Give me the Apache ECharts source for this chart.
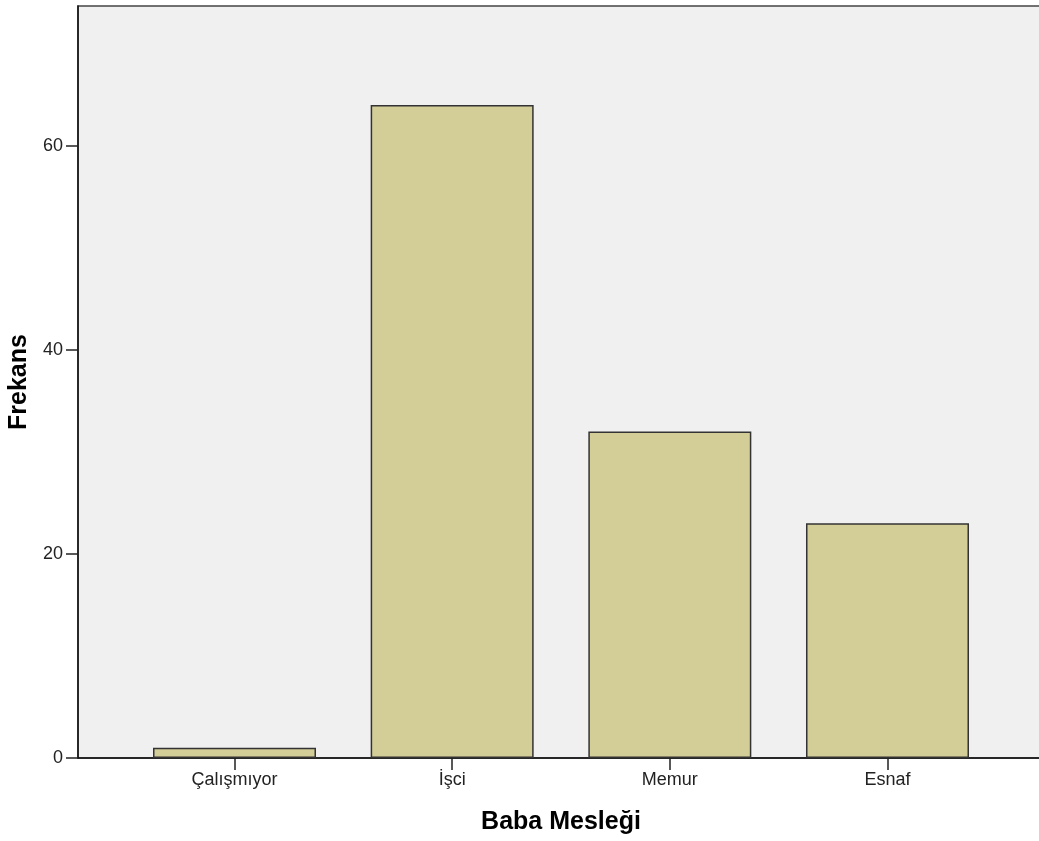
<!DOCTYPE html>
<html>
<head>
<meta charset="utf-8">
<script src="https://cdn.jsdelivr.net/npm/echarts@6/dist/echarts.min.js"></script>
<style>
html,body{margin:0;padding:0;background:#fff;}
#chart{width:1039px;height:841px;}
</style>
</head>
<body>
<div id="chart"></div>
<script>
var categories = ['Çalışmıyor', 'İşci', 'Memur', 'Esnaf'];
var frequencies = [1, 64, 32, 23];
var yTicks = [0, 20, 40, 60];
var xTitle = 'Baba Mesleği';
var yTitle = 'Frekans';

var chart = echarts.init(document.getElementById('chart'));
var catIdx = categories.map(function (c, i) { return i; });
var barData = frequencies.map(function (v, i) { return [i, v]; });
var FONT = 'Liberation Sans, Arial, sans-serif';

chart.setOption({
  animation: false,
  grid: {
    left: 78, top: 6, right: -5, bottom: 83,
    outerBoundsMode: 'none', containLabel: false,
    show: true, backgroundColor: '#f0f0f0',
    borderColor: '#444', borderWidth: 1.5
  },
  xAxis: {
    type: 'value', min: -0.719, max: 3.719,
    splitLine: { show: false },
    axisLine: { show: true, onZero: false, lineStyle: { color: '#111', width: 1.5 } },
    axisTick: { show: true, customValues: catIdx, length: 12, lineStyle: { color: '#222', width: 1.5 } },
    axisLabel: {
      customValues: catIdx, color: '#222', fontSize: 18,
      fontFamily: FONT, margin: 13,
      formatter: function (v) { return categories[Math.round(v)]; }
    },
    name: xTitle, nameLocation: 'middle', nameGap: 52,
    nameTextStyle: { fontSize: 25, fontWeight: 'bold', color: '#000', fontFamily: FONT }
  },
  yAxis: {
    type: 'value', min: 0, max: 73.7,
    splitLine: { show: false },
    axisLine: { show: true, onZero: false, lineStyle: { color: '#111', width: 1.5 } },
    axisTick: { show: true, customValues: yTicks, length: 12, lineStyle: { color: '#222', width: 1.5 } },
    axisLabel: {
      customValues: yTicks, color: '#222', fontSize: 18,
      fontFamily: FONT, margin: 15
    },
    name: yTitle, nameLocation: 'middle', nameGap: 44, nameRotate: 90,
    nameTextStyle: { fontSize: 25, fontWeight: 'bold', color: '#000', fontFamily: FONT }
  },
  series: [{
    type: 'bar',
    data: barData,
    barWidth: 163,
    itemStyle: { color: '#d3cd97', borderColor: '#333', borderWidth: 1.5 }
  }]
});
</script>
</body>
</html>
